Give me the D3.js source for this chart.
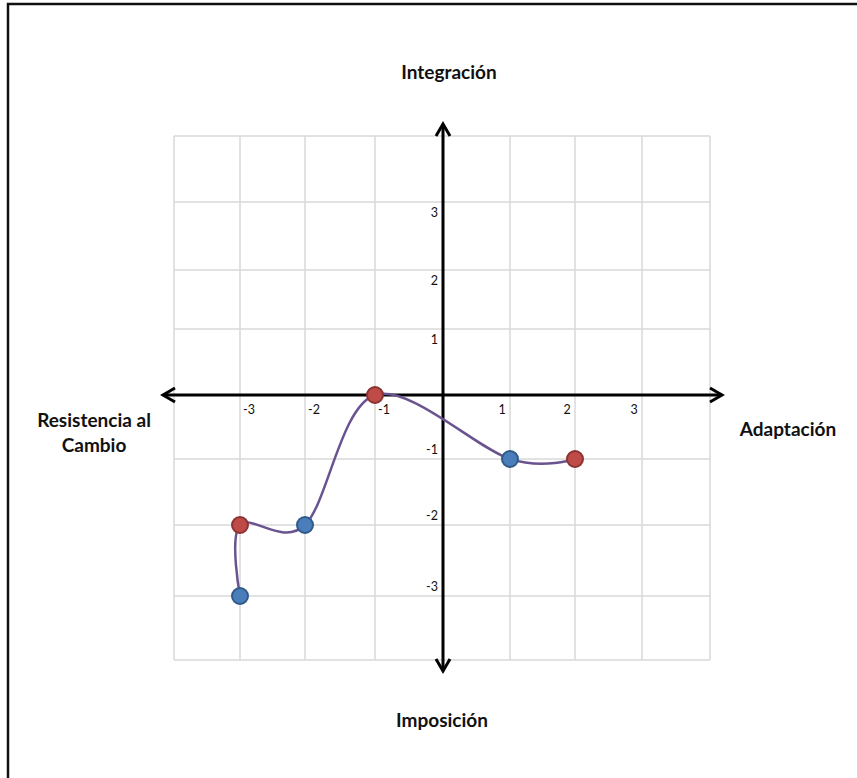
<!DOCTYPE html>
<html>
<head>
<meta charset="utf-8">
<script src="https://cdn.jsdelivr.net/npm/d3@7"></script>
<style>
  body { margin: 0; background: #fff; }
  svg { display: block; }
  .grid line { stroke: #d9d9d9; stroke-width: 1.5; }
  .tick-label { font: 12.5px "Lato", "Open Sans", sans-serif; fill: #111; }
  .quad-label { font: bold 19px "Lato", "Open Sans", sans-serif; fill: #111; }
</style>
</head>
<body>
<svg></svg>
<script>
// values
let xValues = [-3, -3, -2, -1, 1, 2],
    yValues = [-3, -2, -2, 0, -1, -1],
    pointKind = ["a", "b", "a", "b", "a", "b"],
    gridSteps = [-4, -3, -2, -1, 0, 1, 2, 3, 4],
    xTicks = [-3, -2, -1, 1, 2, 3],
    yTicks = [3, 2, 1, -1, -2, -3],
    labelTop = "Integración",
    labelBottom = "Imposición",
    labelRight = "Adaptación",
    labelLeft = ["Resistencia al", "Cambio"];

let svg = d3.select("svg").attr("width", 857).attr("height", 778);

// the screenshot grid is slightly uneven, so use a polylinear scale
let x = d3.scaleLinear().domain(gridSteps)
        .range([174, 240, 305, 375, 443, 510, 575, 642, 710]),
    y = d3.scaleLinear().domain(gridSteps)
        .range([660, 596, 525, 459, 395, 329, 270, 202, 136]),
    fill = {a: "#4a7ebb", b: "#be4b48"},
    stroke = {a: "#31598a", b: "#8c3331"};

// frame of the original sheet
svg.append("path")
    .attr("d", "M8,780 L8,4 L860,4")
    .attr("fill", "none")
    .attr("stroke", "#111")
    .attr("stroke-width", 2.5);

// gridlines
let grid = svg.append("g").attr("class", "grid");
grid.selectAll(".vx")
    .data(gridSteps.filter(function(d) { return d !== 0; }))
    .enter().append("line")
    .attr("x1", function(d) { return x(d); })
    .attr("x2", function(d) { return x(d); })
    .attr("y1", y(-4))
    .attr("y2", y(4));
grid.selectAll(".hy")
    .data(gridSteps.filter(function(d) { return d !== 0; }))
    .enter().append("line")
    .attr("y1", function(d) { return y(d); })
    .attr("y2", function(d) { return y(d); })
    .attr("x1", x(-4))
    .attr("x2", x(4));

// axes with open arrowheads at both ends
let x0 = x(0), y0 = y(0),
    xl = x(-4) - 11, xr = x(4) + 12,
    yt = y(4) - 12, yb = y(-4) + 11;
let axes = svg.append("g")
    .attr("fill", "none")
    .attr("stroke", "#000")
    .attr("stroke-width", 3)
    .attr("stroke-linejoin", "miter");
axes.append("line").attr("x1", xl).attr("x2", xr).attr("y1", y0).attr("y2", y0);
axes.append("line").attr("x1", x0).attr("x2", x0).attr("y1", yt).attr("y2", yb);
axes.append("path").attr("d", "M" + (xl + 12) + "," + (y0 - 7) + "L" + xl + "," + y0 + "L" + (xl + 12) + "," + (y0 + 7));
axes.append("path").attr("d", "M" + (xr - 12) + "," + (y0 - 7) + "L" + xr + "," + y0 + "L" + (xr - 12) + "," + (y0 + 7));
axes.append("path").attr("d", "M" + (x0 - 7) + "," + (yt + 12) + "L" + x0 + "," + yt + "L" + (x0 + 7) + "," + (yt + 12));
axes.append("path").attr("d", "M" + (x0 - 7) + "," + (yb - 12) + "L" + x0 + "," + yb + "L" + (x0 + 7) + "," + (yb - 12));

// tick labels
svg.selectAll(".xt")
    .data(xTicks)
    .enter().append("text")
    .attr("class", "tick-label")
    .attr("text-anchor", "middle")
    .attr("x", function(d) { return x(d) + (d < 0 ? 9 : -8); })
    .attr("y", y0 + 19)
    .text(function(d) { return d; });
svg.selectAll(".yt")
    .data(yTicks)
    .enter().append("text")
    .attr("class", "tick-label")
    .attr("text-anchor", "end")
    .attr("x", x0 - 5)
    .attr("y", function(d) { return y(d) + (d > 0 ? 15 : -5); })
    .text(function(d) { return d; });

// smoothed series line
let pts = xValues.map(function(d, i) { return {x: d, y: yValues[i], k: pointKind[i]}; });
let line = d3.line()
    .curve(d3.curveCatmullRom.alpha(0))
    .x(function(d) { return x(d.x); })
    .y(function(d) { return y(d.y); });
svg.append("path")
    .datum(pts)
    .attr("d", line)
    .attr("fill", "none")
    .attr("stroke", "#6a5490")
    .attr("stroke-width", 2.5);

svg.selectAll(".pt")
    .data(pts)
    .enter().append("circle")
    .attr("cx", function(d) { return x(d.x); })
    .attr("cy", function(d) { return y(d.y); })
    .attr("r", 8)
    .attr("fill", function(d) { return fill[d.k]; })
    .attr("stroke", function(d) { return stroke[d.k]; })
    .attr("stroke-width", 2);

// quadrant labels
svg.append("text").attr("class", "quad-label").attr("text-anchor", "middle")
    .attr("x", 449).attr("y", 79).text(labelTop);
svg.append("text").attr("class", "quad-label").attr("text-anchor", "middle")
    .attr("x", 442).attr("y", 727).text(labelBottom);
svg.append("text").attr("class", "quad-label").attr("text-anchor", "middle")
    .attr("x", 788).attr("y", 436).text(labelRight);
svg.selectAll(".ll")
    .data(labelLeft)
    .enter().append("text")
    .attr("class", "quad-label")
    .attr("text-anchor", "middle")
    .attr("x", 94)
    .attr("y", function(d, i) { return 427 + i * 25; })
    .text(function(d) { return d; });
</script>
</body>
</html>
